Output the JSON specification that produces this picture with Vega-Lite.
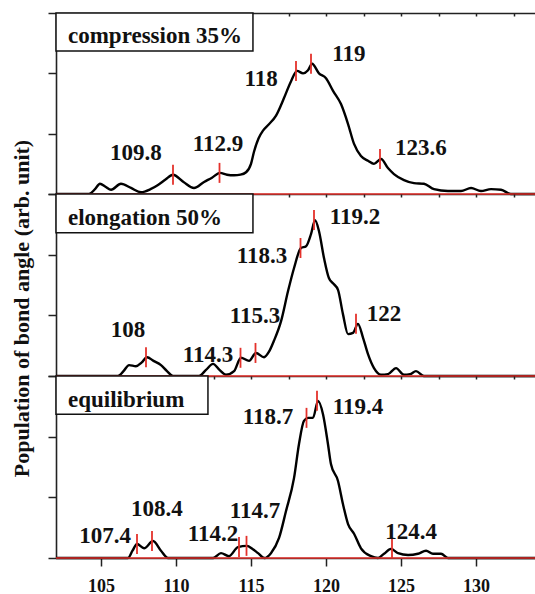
{
  "$schema": "https://vega.github.io/schema/vega-lite/v6.json",
  "padding": {"left": 10, "top": 12, "right": 0, "bottom": 0},
  "bounds": "flush",
  "spacing": 0,
  "background": "white",
  "datasets": {
    "curve": [
      {"panel": "c", "angle": 102, "pop": 0},
      {"panel": "c", "angle": 104.2, "pop": 0},
      {"panel": "c", "angle": 104.6, "pop": 0.08},
      {"panel": "c", "angle": 104.93, "pop": 0.17},
      {"panel": "c", "angle": 105.3, "pop": 0.12},
      {"panel": "c", "angle": 105.67, "pop": 0.07},
      {"panel": "c", "angle": 106.33, "pop": 0.17},
      {"panel": "c", "angle": 107, "pop": 0.1},
      {"panel": "c", "angle": 107.67, "pop": 0.03},
      {"panel": "c", "angle": 108.3, "pop": 0.08},
      {"panel": "c", "angle": 108.8, "pop": 0.15},
      {"panel": "c", "angle": 109.3, "pop": 0.24},
      {"panel": "c", "angle": 109.8, "pop": 0.32},
      {"panel": "c", "angle": 110.5, "pop": 0.2},
      {"panel": "c", "angle": 111.2, "pop": 0.1},
      {"panel": "c", "angle": 111.87, "pop": 0.2},
      {"panel": "c", "angle": 112.4, "pop": 0.27},
      {"panel": "c", "angle": 112.93, "pop": 0.35},
      {"panel": "c", "angle": 113.4, "pop": 0.32},
      {"panel": "c", "angle": 113.87, "pop": 0.31},
      {"panel": "c", "angle": 114.3, "pop": 0.32},
      {"panel": "c", "angle": 114.67, "pop": 0.36},
      {"panel": "c", "angle": 115.0, "pop": 0.5},
      {"panel": "c", "angle": 115.2, "pop": 0.7},
      {"panel": "c", "angle": 115.5, "pop": 0.92},
      {"panel": "c", "angle": 115.8, "pop": 1.05},
      {"panel": "c", "angle": 116.13, "pop": 1.14},
      {"panel": "c", "angle": 116.67, "pop": 1.3},
      {"panel": "c", "angle": 117.2, "pop": 1.59},
      {"panel": "c", "angle": 117.67, "pop": 1.87},
      {"panel": "c", "angle": 118.07, "pop": 2.04},
      {"panel": "c", "angle": 118.47, "pop": 2.0},
      {"panel": "c", "angle": 118.8, "pop": 2.05},
      {"panel": "c", "angle": 119.07, "pop": 2.16},
      {"panel": "c", "angle": 119.53, "pop": 2.0},
      {"panel": "c", "angle": 120, "pop": 1.92},
      {"panel": "c", "angle": 120.47, "pop": 1.71},
      {"panel": "c", "angle": 121, "pop": 1.49},
      {"panel": "c", "angle": 121.47, "pop": 1.16},
      {"panel": "c", "angle": 121.87, "pop": 0.83},
      {"panel": "c", "angle": 122.33, "pop": 0.63},
      {"panel": "c", "angle": 122.8, "pop": 0.55},
      {"panel": "c", "angle": 123.2, "pop": 0.5},
      {"panel": "c", "angle": 123.67, "pop": 0.58},
      {"panel": "c", "angle": 124.13, "pop": 0.43},
      {"panel": "c", "angle": 124.53, "pop": 0.33},
      {"panel": "c", "angle": 125.2, "pop": 0.23},
      {"panel": "c", "angle": 125.87, "pop": 0.18},
      {"panel": "c", "angle": 126.53, "pop": 0.17},
      {"panel": "c", "angle": 127.2, "pop": 0.08},
      {"panel": "c", "angle": 128.13, "pop": 0.05},
      {"panel": "c", "angle": 129, "pop": 0.05},
      {"panel": "c", "angle": 129.67, "pop": 0.1},
      {"panel": "c", "angle": 130.33, "pop": 0.05},
      {"panel": "c", "angle": 131, "pop": 0.08},
      {"panel": "c", "angle": 131.67, "pop": 0.07},
      {"panel": "c", "angle": 132.33, "pop": 0},
      {"panel": "c", "angle": 134.2, "pop": 0},

      {"panel": "e", "angle": 102, "pop": 0},
      {"panel": "e", "angle": 106.13, "pop": 0},
      {"panel": "e", "angle": 106.5, "pop": 0.08},
      {"panel": "e", "angle": 106.87, "pop": 0.18},
      {"panel": "e", "angle": 107.33, "pop": 0.16},
      {"panel": "e", "angle": 107.7, "pop": 0.22},
      {"panel": "e", "angle": 108.07, "pop": 0.31},
      {"panel": "e", "angle": 108.5, "pop": 0.25},
      {"panel": "e", "angle": 109, "pop": 0.18},
      {"panel": "e", "angle": 109.4, "pop": 0.08},
      {"panel": "e", "angle": 109.8, "pop": 0},
      {"panel": "e", "angle": 111.53, "pop": 0},
      {"panel": "e", "angle": 112, "pop": 0.1},
      {"panel": "e", "angle": 112.47, "pop": 0.2},
      {"panel": "e", "angle": 112.9, "pop": 0.1},
      {"panel": "e", "angle": 113.33, "pop": 0.02},
      {"panel": "e", "angle": 113.87, "pop": 0.08},
      {"panel": "e", "angle": 114.33, "pop": 0.3},
      {"panel": "e", "angle": 114.87, "pop": 0.25},
      {"panel": "e", "angle": 115.33, "pop": 0.38},
      {"panel": "e", "angle": 115.87, "pop": 0.31},
      {"panel": "e", "angle": 116.2, "pop": 0.4},
      {"panel": "e", "angle": 116.53, "pop": 0.58},
      {"panel": "e", "angle": 117, "pop": 0.9},
      {"panel": "e", "angle": 117.47, "pop": 1.4},
      {"panel": "e", "angle": 117.87, "pop": 1.78},
      {"panel": "e", "angle": 118.33, "pop": 2.11},
      {"panel": "e", "angle": 118.67, "pop": 2.14},
      {"panel": "e", "angle": 119, "pop": 2.34},
      {"panel": "e", "angle": 119.27, "pop": 2.57},
      {"panel": "e", "angle": 119.53, "pop": 2.39},
      {"panel": "e", "angle": 119.87, "pop": 1.94},
      {"panel": "e", "angle": 120.2, "pop": 1.61},
      {"panel": "e", "angle": 120.5, "pop": 1.52},
      {"panel": "e", "angle": 120.8, "pop": 1.42},
      {"panel": "e", "angle": 121.13, "pop": 1.02},
      {"panel": "e", "angle": 121.47, "pop": 0.69},
      {"panel": "e", "angle": 121.8, "pop": 0.71},
      {"panel": "e", "angle": 122.13, "pop": 0.86},
      {"panel": "e", "angle": 122.47, "pop": 0.63},
      {"panel": "e", "angle": 122.8, "pop": 0.36},
      {"panel": "e", "angle": 123.2, "pop": 0.13},
      {"panel": "e", "angle": 123.67, "pop": 0.02},
      {"panel": "e", "angle": 124.13, "pop": 0.03},
      {"panel": "e", "angle": 124.67, "pop": 0.13},
      {"panel": "e", "angle": 125.2, "pop": 0.02},
      {"panel": "e", "angle": 125.6, "pop": 0.03},
      {"panel": "e", "angle": 126, "pop": 0.08},
      {"panel": "e", "angle": 126.53, "pop": 0},
      {"panel": "e", "angle": 134.2, "pop": 0},

      {"panel": "q", "angle": 102, "pop": 0},
      {"panel": "q", "angle": 106.8, "pop": 0},
      {"panel": "q", "angle": 107.1, "pop": 0.12},
      {"panel": "q", "angle": 107.4, "pop": 0.23},
      {"panel": "q", "angle": 107.87, "pop": 0.16},
      {"panel": "q", "angle": 108.47, "pop": 0.28},
      {"panel": "q", "angle": 109, "pop": 0.12},
      {"panel": "q", "angle": 109.47, "pop": 0},
      {"panel": "q", "angle": 112.47, "pop": 0},
      {"panel": "q", "angle": 113, "pop": 0.08},
      {"panel": "q", "angle": 113.53, "pop": 0.03},
      {"panel": "q", "angle": 114.13, "pop": 0.18},
      {"panel": "q", "angle": 114.73, "pop": 0.2},
      {"panel": "q", "angle": 115.1, "pop": 0.15},
      {"panel": "q", "angle": 115.47, "pop": 0.08},
      {"panel": "q", "angle": 115.9, "pop": 0.0},
      {"panel": "q", "angle": 116.33, "pop": 0.08},
      {"panel": "q", "angle": 116.87, "pop": 0.33},
      {"panel": "q", "angle": 117.33, "pop": 0.77},
      {"panel": "q", "angle": 117.87, "pop": 1.32},
      {"panel": "q", "angle": 118.2, "pop": 1.88},
      {"panel": "q", "angle": 118.53, "pop": 2.26},
      {"panel": "q", "angle": 118.8, "pop": 2.31},
      {"panel": "q", "angle": 119.13, "pop": 2.31},
      {"panel": "q", "angle": 119.47, "pop": 2.59},
      {"panel": "q", "angle": 119.8, "pop": 2.37},
      {"panel": "q", "angle": 120.13, "pop": 1.88},
      {"panel": "q", "angle": 120.33, "pop": 1.55},
      {"panel": "q", "angle": 120.8, "pop": 1.27},
      {"panel": "q", "angle": 121.13, "pop": 0.89},
      {"panel": "q", "angle": 121.47, "pop": 0.56},
      {"panel": "q", "angle": 121.87, "pop": 0.4},
      {"panel": "q", "angle": 122.33, "pop": 0.16},
      {"panel": "q", "angle": 123, "pop": 0.03},
      {"panel": "q", "angle": 123.47, "pop": 0},
      {"panel": "q", "angle": 123.87, "pop": 0.07},
      {"panel": "q", "angle": 124.33, "pop": 0.15},
      {"panel": "q", "angle": 124.8, "pop": 0.08},
      {"panel": "q", "angle": 125.47, "pop": 0.05},
      {"panel": "q", "angle": 126.13, "pop": 0.07},
      {"panel": "q", "angle": 126.67, "pop": 0.12},
      {"panel": "q", "angle": 127.13, "pop": 0.07},
      {"panel": "q", "angle": 127.67, "pop": 0.07},
      {"panel": "q", "angle": 128.13, "pop": 0},
      {"panel": "q", "angle": 134.2, "pop": 0}
    ],
    "peaks": [
      {"panel": "c", "angle": 109.8, "pop": 0.32, "label": "109.8", "lx": 107.33, "ly": 0.68},
      {"panel": "c", "angle": 112.9, "pop": 0.35, "label": "112.9", "lx": 112.8, "ly": 0.83},
      {"panel": "c", "angle": 118.0, "pop": 2.04, "label": "118", "lx": 115.67, "ly": 1.91},
      {"panel": "c", "angle": 119.0, "pop": 2.16, "label": "119", "lx": 121.53, "ly": 2.32},
      {"panel": "c", "angle": 123.6, "pop": 0.58, "label": "123.6", "lx": 126.33, "ly": 0.76},
      {"panel": "e", "angle": 108.0, "pop": 0.31, "label": "108", "lx": 106.8, "ly": 0.76},
      {"panel": "e", "angle": 114.3, "pop": 0.3, "label": "114.3", "lx": 112.13, "ly": 0.35},
      {"panel": "e", "angle": 115.3, "pop": 0.38, "label": "115.3", "lx": 115.27, "ly": 0.99},
      {"panel": "e", "angle": 118.3, "pop": 2.11, "label": "118.3", "lx": 115.73, "ly": 1.98},
      {"panel": "e", "angle": 119.2, "pop": 2.57, "label": "119.2", "lx": 121.93, "ly": 2.62},
      {"panel": "e", "angle": 122.0, "pop": 0.86, "label": "122", "lx": 123.87, "ly": 1.02},
      {"panel": "q", "angle": 107.4, "pop": 0.23, "label": "107.4", "lx": 105.27, "ly": 0.36},
      {"panel": "q", "angle": 108.4, "pop": 0.28, "label": "108.4", "lx": 108.73, "ly": 0.81},
      {"panel": "q", "angle": 114.2, "pop": 0.18, "label": "114.2", "lx": 112.47, "ly": 0.4},
      {"panel": "q", "angle": 114.7, "pop": 0.2, "label": "114.7", "lx": 115.27, "ly": 0.77},
      {"panel": "q", "angle": 118.7, "pop": 2.31, "label": "118.7", "lx": 116.13, "ly": 2.32},
      {"panel": "q", "angle": 119.4, "pop": 2.59, "label": "119.4", "lx": 122.13, "ly": 2.49},
      {"panel": "q", "angle": 124.4, "pop": 0.16, "label": "124.4", "lx": 125.67, "ly": 0.43}
    ],
    "boxes": [
      {"panel": "c", "x1": 102, "x2": 115.13, "y1": 2.37, "y2": 3, "name": "compression 35%", "tx": 102.8, "ty": 2.62},
      {"panel": "e", "x1": 102, "x2": 115.13, "y1": 2.36, "y2": 3, "name": "elongation 50%", "tx": 102.8, "ty": 2.6},
      {"panel": "q", "x1": 102, "x2": 112.13, "y1": 2.37, "y2": 3, "name": "equilibrium", "tx": 102.8, "ty": 2.6}
    ]
  },
  "vconcat": [
    {
      "width": 483, "height": 181,
      "resolve": {"axis": {"x": "independent"}},
      "layer": [
        {
          "data": {"name": "curve"},
          "transform": [{"filter": "datum.panel == 'c'"}],
          "mark": {"type": "line", "color": "black", "strokeWidth": 2.4, "interpolate": "monotone"},
          "encoding": {
            "x": {"field": "angle", "type": "quantitative", "scale": {"domain": [102, 134.2], "nice": false, "zero": false},
                  "axis": {"orient": "top", "title": null, "labels": false, "domain": true, "tickSize": -3, "values": [102.5, 105, 107.5, 110, 112.5, 115, 117.5, 120, 122.5, 125, 127.5, 130, 132.5]}},
            "y": {"field": "pop", "type": "quantitative", "scale": {"domain": [0, 3], "nice": false},
                  "axis": {"title": null, "labels": false, "values": [0, 1, 2, 3], "tickSize": 8}}
          }
        },
        {
          "data": {"values": [{}]},
          "mark": {"type": "rule", "color": "#e4312b", "strokeWidth": 1.6},
          "encoding": {"y": {"datum": 0, "type": "quantitative"}}
        },
        {
          "data": {"name": "peaks"},
          "transform": [{"filter": "datum.panel == 'c'"}],
          "mark": {"type": "tick", "orient": "vertical", "color": "#e4312b", "opacity": 1, "size": 20, "thickness": 1.8},
          "encoding": {
            "x": {"field": "angle", "type": "quantitative", "axis": {"orient": "bottom", "title": null, "labels": false, "ticks": false, "domain": true}},
            "y": {"field": "pop", "type": "quantitative"}
          }
        },
        {
          "data": {"name": "peaks"},
          "transform": [{"filter": "datum.panel == 'c'"}],
          "mark": {"type": "text", "font": "Liberation Serif, serif", "fontWeight": "bold", "fontSize": 23, "align": "center", "baseline": "middle", "color": "#111"},
          "encoding": {
            "x": {"field": "lx", "type": "quantitative", "axis": null},
            "y": {"field": "ly", "type": "quantitative"},
            "text": {"field": "label"}
          }
        },
        {
          "data": {"name": "boxes"},
          "transform": [{"filter": "datum.panel == 'c'"}],
          "mark": {"type": "rect", "fill": "white", "stroke": "#111", "strokeWidth": 1.5},
          "encoding": {
            "x": {"field": "x1", "type": "quantitative", "axis": null},
            "x2": {"field": "x2"},
            "y": {"field": "y1", "type": "quantitative"},
            "y2": {"field": "y2"}
          }
        },
        {
          "data": {"name": "boxes"},
          "transform": [{"filter": "datum.panel == 'c'"}],
          "mark": {"type": "text", "font": "Liberation Serif, serif", "fontWeight": "bold", "fontSize": 23, "align": "left", "baseline": "middle", "color": "#111"},
          "encoding": {
            "x": {"field": "tx", "type": "quantitative", "axis": null},
            "y": {"field": "ty", "type": "quantitative"},
            "text": {"field": "name"}
          }
        }
      ]
    },
    {
      "width": 483, "height": 182,
      "resolve": {"axis": {"x": "independent"}},
      "layer": [
        {
          "data": {"name": "curve"},
          "transform": [{"filter": "datum.panel == 'e'"}],
          "mark": {"type": "line", "color": "black", "strokeWidth": 2.4, "interpolate": "monotone"},
          "encoding": {
            "x": {"field": "angle", "type": "quantitative", "scale": {"domain": [102, 134.2], "nice": false, "zero": false},
                  "axis": {"orient": "top", "title": null, "labels": false, "domain": false, "tickSize": -3, "values": [102.5, 105, 107.5, 110, 112.5, 115, 117.5, 120, 122.5, 125, 127.5, 130, 132.5]}},
            "y": {"field": "pop", "type": "quantitative", "scale": {"domain": [0, 3], "nice": false},
                  "axis": {"title": "Population of bond angle (arb. unit)", "labels": false, "values": [0, 1, 2, 3], "tickSize": 8, "titlePadding": 14, "titleY": 114, "titleFontSize": 22}}
          }
        },
        {
          "data": {"values": [{}]},
          "mark": {"type": "rule", "color": "#e4312b", "strokeWidth": 1.6},
          "encoding": {"y": {"datum": 0, "type": "quantitative"}}
        },
        {
          "data": {"name": "peaks"},
          "transform": [{"filter": "datum.panel == 'e'"}],
          "mark": {"type": "tick", "orient": "vertical", "color": "#e4312b", "opacity": 1, "size": 20, "thickness": 1.8},
          "encoding": {
            "x": {"field": "angle", "type": "quantitative", "axis": {"orient": "bottom", "title": null, "labels": false, "ticks": false, "domain": true}},
            "y": {"field": "pop", "type": "quantitative"}
          }
        },
        {
          "data": {"name": "peaks"},
          "transform": [{"filter": "datum.panel == 'e'"}],
          "mark": {"type": "text", "font": "Liberation Serif, serif", "fontWeight": "bold", "fontSize": 23, "align": "center", "baseline": "middle", "color": "#111"},
          "encoding": {
            "x": {"field": "lx", "type": "quantitative", "axis": null},
            "y": {"field": "ly", "type": "quantitative"},
            "text": {"field": "label"}
          }
        },
        {
          "data": {"name": "boxes"},
          "transform": [{"filter": "datum.panel == 'e'"}],
          "mark": {"type": "rect", "fill": "white", "stroke": "#111", "strokeWidth": 1.5},
          "encoding": {
            "x": {"field": "x1", "type": "quantitative", "axis": null},
            "x2": {"field": "x2"},
            "y": {"field": "y1", "type": "quantitative"},
            "y2": {"field": "y2"}
          }
        },
        {
          "data": {"name": "boxes"},
          "transform": [{"filter": "datum.panel == 'e'"}],
          "mark": {"type": "text", "font": "Liberation Serif, serif", "fontWeight": "bold", "fontSize": 23, "align": "left", "baseline": "middle", "color": "#111"},
          "encoding": {
            "x": {"field": "tx", "type": "quantitative", "axis": null},
            "y": {"field": "ty", "type": "quantitative"},
            "text": {"field": "name"}
          }
        }
      ]
    },
    {
      "width": 483, "height": 182,
      "resolve": {"axis": {"x": "independent"}},
      "layer": [
        {
          "data": {"name": "curve"},
          "transform": [{"filter": "datum.panel == 'q'"}],
          "mark": {"type": "line", "color": "black", "strokeWidth": 2.4, "interpolate": "monotone"},
          "encoding": {
            "x": {"field": "angle", "type": "quantitative", "scale": {"domain": [102, 134.2], "nice": false, "zero": false},
                  "axis": {"orient": "top", "title": null, "labels": false, "domain": false, "tickSize": -3, "values": [102.5, 105, 107.5, 110, 112.5, 115, 117.5, 120, 122.5, 125, 127.5, 130, 132.5]}},
            "y": {"field": "pop", "type": "quantitative", "scale": {"domain": [0, 3], "nice": false},
                  "axis": {"title": null, "labels": false, "values": [0, 1, 2, 3], "tickSize": 8}}
          }
        },
        {
          "data": {"values": [{}]},
          "mark": {"type": "rule", "color": "#e4312b", "strokeWidth": 1.6},
          "encoding": {"y": {"datum": 0, "type": "quantitative"}}
        },
        {
          "data": {"name": "peaks"},
          "transform": [{"filter": "datum.panel == 'q'"}],
          "mark": {"type": "tick", "orient": "vertical", "color": "#e4312b", "opacity": 1, "size": 20, "thickness": 1.8},
          "encoding": {
            "x": {"field": "angle", "type": "quantitative", "axis": {"orient": "bottom", "title": null, "values": [105, 110, 115, 120, 125, 130], "tickSize": 8, "labelPadding": 11, "labelFontSize": 18, "domain": true}},
            "y": {"field": "pop", "type": "quantitative"}
          }
        },
        {
          "data": {"name": "peaks"},
          "transform": [{"filter": "datum.panel == 'q'"}],
          "mark": {"type": "text", "font": "Liberation Serif, serif", "fontWeight": "bold", "fontSize": 23, "align": "center", "baseline": "middle", "color": "#111"},
          "encoding": {
            "x": {"field": "lx", "type": "quantitative", "axis": null},
            "y": {"field": "ly", "type": "quantitative"},
            "text": {"field": "label"}
          }
        },
        {
          "data": {"name": "boxes"},
          "transform": [{"filter": "datum.panel == 'q'"}],
          "mark": {"type": "rect", "fill": "white", "stroke": "#111", "strokeWidth": 1.5},
          "encoding": {
            "x": {"field": "x1", "type": "quantitative", "axis": null},
            "x2": {"field": "x2"},
            "y": {"field": "y1", "type": "quantitative"},
            "y2": {"field": "y2"}
          }
        },
        {
          "data": {"name": "boxes"},
          "transform": [{"filter": "datum.panel == 'q'"}],
          "mark": {"type": "text", "font": "Liberation Serif, serif", "fontWeight": "bold", "fontSize": 23, "align": "left", "baseline": "middle", "color": "#111"},
          "encoding": {
            "x": {"field": "tx", "type": "quantitative", "axis": null},
            "y": {"field": "ty", "type": "quantitative"},
            "text": {"field": "name"}
          }
        }
      ]
    }
  ],
  "config": {
    "view": {"stroke": null},
    "axis": {
      "grid": false,
      "domainColor": "#222",
      "domainWidth": 1.6,
      "tickColor": "#222",
      "tickWidth": 1.5,
      "labelFont": "Liberation Serif, serif",
      "labelFontWeight": "bold",
      "labelColor": "#111",
      "titleFont": "Liberation Serif, serif",
      "titleFontWeight": "bold",
      "titleColor": "#111"
    }
  }
}
